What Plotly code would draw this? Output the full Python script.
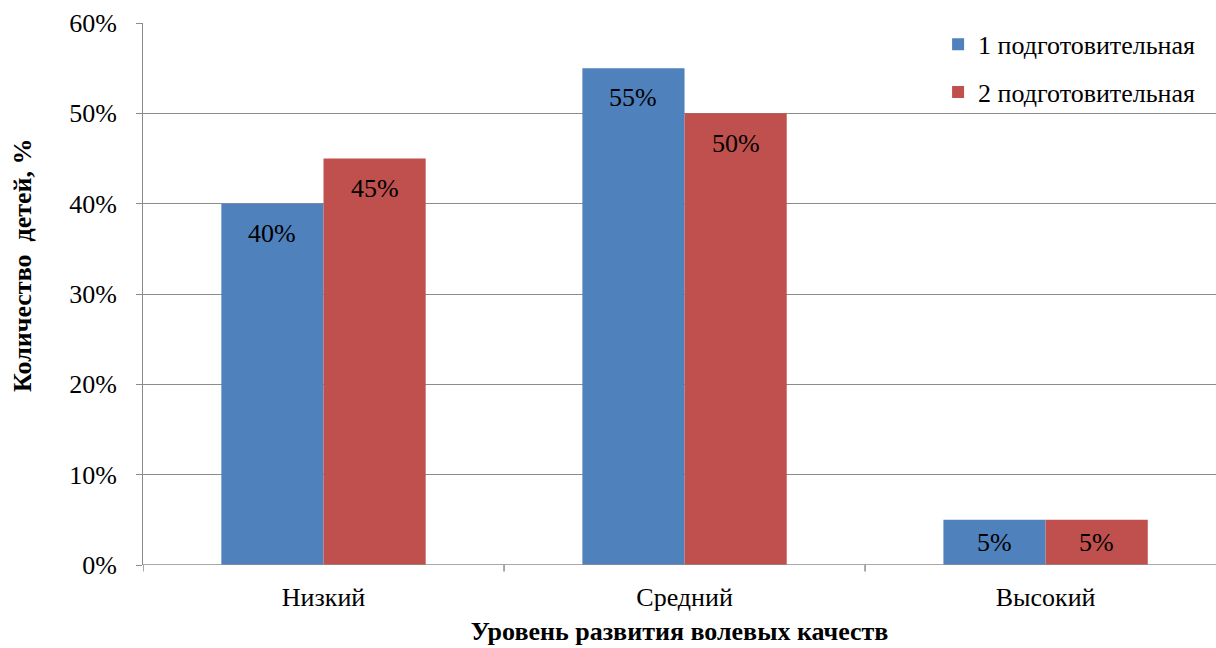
import plotly.graph_objects as go

# Levels of volitional qualities and share of children per group (%)
categories = ["Низкий", "Средний", "Высокий"]
group1 = [40, 55, 5]
group2 = [45, 50, 5]
series_names = ["1 подготовительная", "2 подготовительная"]
y_ticks = [0, 10, 20, 30, 40, 50, 60]
y_tick_labels = [f"{v}%" for v in y_ticks]

BLUE = "#4F81BD"
RED = "#C0504D"
GRID = "#8C8C8C"
FONT = "Liberation Serif, Times New Roman, serif"
FS = 26

positions = list(range(len(categories)))

fig = go.Figure()
for name, vals, color, grp in [(series_names[0], group1, BLUE, "g1"),
                               (series_names[1], group2, RED, "g2")]:
    fig.add_trace(go.Bar(
        x=positions, y=vals, name=name, marker_color=color,
        marker_line_width=0, legendgroup=grp,
        textposition="none",
    ))

# Value labels placed just inside the top of each bar
bar_offsets = [-0.142, 0.142]
for off, vals in zip(bar_offsets, [group1, group2]):
    for i, v in enumerate(vals):
        ypos = max(v - 3.3, v / 2)
        fig.add_annotation(
            x=positions[i] + off, y=ypos, text=f"{v}%", showarrow=False,
            font=dict(family=FONT, size=FS, color="black"),
            xref="x", yref="y",
        )

# Vertical axis title
fig.add_annotation(
    x=-0.1128, y=0.5535, xref="paper", yref="paper",
    text="<b>Количество  детей, %</b>", textangle=-90, showarrow=False,
    font=dict(family=FONT, size=FS, color="black"),
    xanchor="center", yanchor="middle",
)

fig.update_layout(
    width=1216, height=648,
    margin=dict(l=143, r=0, t=23, b=83),
    paper_bgcolor="white", plot_bgcolor="white",
    barmode="group", bargap=0.434, bargroupgap=0,
    font=dict(family=FONT, size=FS, color="black"),
    showlegend=True,
    legend=dict(
        x=0.741, y=1.004, xanchor="left", yanchor="top",
        bgcolor="rgba(0,0,0,0)", tracegroupgap=11,
        font=dict(family=FONT, size=FS, color="black"),
        itemwidth=30,
    ),
    xaxis=dict(
        type="linear",
        range=[-0.5, 2.472],
        tickmode="array", tickvals=positions, ticktext=categories,
        showgrid=False, ticks="", showline=False, zeroline=False,
        ticklabelstandoff=14,
        tickfont=dict(family=FONT, size=FS, color="black"),
        title=dict(text="<b>Уровень развития волевых качеств</b>",
                   font=dict(family=FONT, size=FS, color="black"),
                   standoff=10),
    ),
    yaxis=dict(
        range=[0, 60],
        tickmode="array", tickvals=y_ticks, ticktext=y_tick_labels,
        showgrid=True, gridcolor=GRID, gridwidth=1,
        showline=True, linecolor=GRID, linewidth=1,
        ticks="outside", ticklen=6, tickcolor=GRID,
        zeroline=False, ticklabelstandoff=14,
        tickfont=dict(family=FONT, size=FS, color="black"),
    ),
)

# Category axis line with boundary tick marks
fig.add_shape(type="line", xref="x", yref="y", x0=-0.5, x1=2.472, y0=0, y1=0,
              line=dict(color=GRID, width=1.5))
for b in [-0.5, 0.5, 1.5]:
    fig.add_shape(type="line", xref="x", yref="paper", x0=b, x1=b, y0=0, y1=-0.012,
                  line=dict(color=GRID, width=1.5))

fig.write_html("out.html")
